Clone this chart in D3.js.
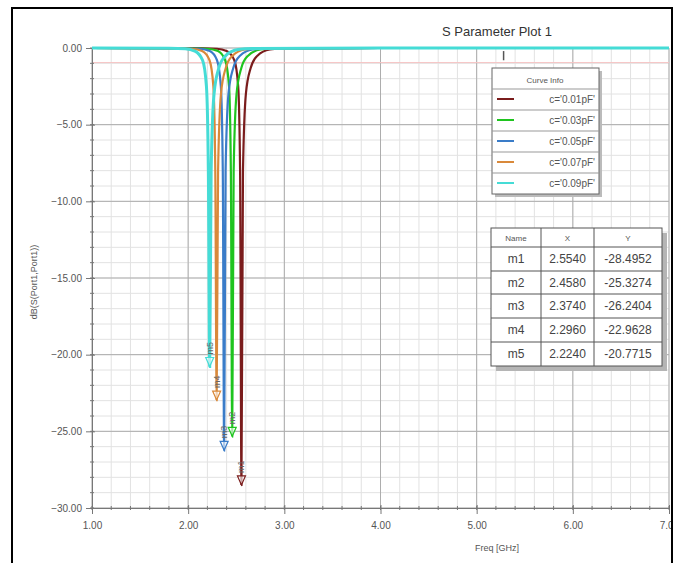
<!DOCTYPE html>
<html lang="en">
	<head>
		<meta charset="utf-8">
		<title>S Parameter Plot 1</title>
		<script src="https://cdnjs.cloudflare.com/ajax/libs/d3/7.8.5/d3.min.js"></script>
		<style type="text/css">
			body { margin: 0; background: white; }
			text { font-family: "Liberation Sans", Arial, sans-serif; }
			g.tick text { fill: #555; font-size: 10px; }
		</style>
	</head>
	<body>
		<div id="chart"></div>
		<script type="text/javascript">

			// data
			const curveNames = ["c='0.01pF'", "c='0.03pF'", "c='0.05pF'", "c='0.07pF'", "c='0.09pF'"];
			const curveColors = ["#7a1c1c", "#1fc41f", "#3a7cc8", "#d9893a", "#45dcd6"];

			const curve1 = [[1.00,0],[2.00,-0.01],[2.30,-0.05],[2.40,-0.2],[2.48,-0.8],[2.52,-2.5],[2.54,-8],[2.554,-28.4952],[2.57,-8],[2.60,-3],[2.65,-1.3],[2.72,-0.5],[2.85,-0.1],[3.00,-0.03],[4.00,0],[7.00,0]];
			const curve2 = [[1.00,0],[2.00,-0.02],[2.20,-0.05],[2.31,-0.2],[2.385,-0.8],[2.425,-2.5],[2.444,-8],[2.458,-25.3274],[2.473,-8],[2.503,-3],[2.553,-1.3],[2.623,-0.5],[2.75,-0.1],[2.90,-0.03],[4.00,0],[7.00,0]];
			const curve3 = [[1.00,0],[1.90,-0.02],[2.12,-0.05],[2.225,-0.2],[2.30,-0.8],[2.34,-2.5],[2.36,-8],[2.374,-26.2404],[2.389,-8],[2.419,-3],[2.469,-1.3],[2.539,-0.5],[2.67,-0.1],[2.82,-0.03],[4.00,0],[7.00,0]];
			const curve4 = [[1.00,0],[1.85,-0.02],[2.04,-0.05],[2.145,-0.2],[2.222,-0.8],[2.262,-2.5],[2.282,-8],[2.296,-22.9628],[2.311,-8],[2.341,-3],[2.391,-1.3],[2.461,-0.5],[2.59,-0.1],[2.74,-0.03],[4.00,0],[7.00,0]];
			const curve5 = [[1.00,0],[1.80,-0.02],[1.97,-0.05],[2.07,-0.2],[2.15,-0.8],[2.19,-2.5],[2.21,-8],[2.224,-20.7715],[2.239,-8],[2.269,-3],[2.319,-1.3],[2.39,-0.5],[2.52,-0.1],[2.67,-0.03],[4.00,0],[7.00,0]];

			const markerNames = ["m1", "m2", "m3", "m4", "m5"];
			const markerX = [2.5540, 2.4580, 2.3740, 2.2960, 2.2240];
			const markerY = [-28.4952, -25.3274, -26.2404, -22.9628, -20.7715];

			const xTicks = [1, 2, 3, 4, 5, 6, 7];
			const yTicks = [0, -5, -10, -15, -20, -25, -30];

			const width = 678;
			const height = 563;
			const margin = {left: 92, right: 9, top: 48, bottom: 55};

			const svg = d3.select("#chart")
					.append("svg")
					.attr("width", width)
					.attr("height", height);

			const xScale = d3.scaleLinear()
					.domain([1, 7])
					.range([margin.left, width - margin.right]);
			const yScale = d3.scaleLinear()
					.domain([-30, 0])
					.range([height - margin.bottom, margin.top]);

			// grid, minor first then major
			const minorX = d3.range(10, 71, 2).map(d => d / 10);
			const minorY = d3.range(-30, 1, 1);
			const grid = svg.append("g").attr("class", "grid");
			grid.selectAll("line.vx")
					.data(minorX)
					.enter()
					.append("line")
					.attr("x1", d => xScale(d)).attr("x2", d => xScale(d))
					.attr("y1", yScale(0)).attr("y2", yScale(-30))
					.attr("stroke", "#e2e2e2").attr("stroke-width", 1);
			grid.selectAll("line.vy")
					.data(minorY)
					.enter()
					.append("line")
					.attr("y1", d => yScale(d)).attr("y2", d => yScale(d))
					.attr("x1", xScale(1)).attr("x2", xScale(7))
					.attr("stroke", "#e2e2e2").attr("stroke-width", 1);
			grid.selectAll("line.mx")
					.data(xTicks)
					.enter()
					.append("line")
					.attr("x1", d => xScale(d)).attr("x2", d => xScale(d))
					.attr("y1", yScale(0)).attr("y2", yScale(-30))
					.attr("stroke", "#adadad").attr("stroke-width", 1);
			grid.selectAll("line.my")
					.data(yTicks)
					.enter()
					.append("line")
					.attr("y1", d => yScale(d)).attr("y2", d => yScale(d))
					.attr("x1", xScale(1)).attr("x2", xScale(7))
					.attr("stroke", "#adadad").attr("stroke-width", 1);

			// faint red reference line
			svg.append("line")
					.attr("x1", xScale(1)).attr("x2", xScale(7))
					.attr("y1", yScale(-0.95)).attr("y2", yScale(-0.95))
					.attr("stroke", "#f6c4c4").attr("stroke-width", 1);

			// axes
			const xAxis = d3.axisBottom(xScale)
					.tickValues(xTicks)
					.tickFormat(d3.format(".2f"))
					.tickSize(6)
					.tickPadding(8);
			const yAxis = d3.axisLeft(yScale)
					.tickValues(yTicks)
					.tickFormat(d3.format(".2f"))
					.tickSize(6)
					.tickPadding(4);

			svg.append("g")
					.attr("class", "axis x")
					.attr("transform", "translate(0," + yScale(-30) + ")")
					.call(xAxis)
					.call(g => g.select(".domain").attr("stroke", "#777"))
					.call(g => g.selectAll(".tick line").attr("stroke", "#777").attr("y1", -3));
			svg.append("g")
					.attr("class", "axis y")
					.attr("transform", "translate(" + xScale(1) + ",0)")
					.call(yAxis)
					.call(g => g.select(".domain").attr("stroke", "#777"))
					.call(g => g.selectAll(".tick line").attr("stroke", "#777").attr("x1", 3));

			// minor ticks along the axes
			svg.append("g").selectAll("line")
					.data(minorX)
					.enter()
					.append("line")
					.attr("x1", d => xScale(d)).attr("x2", d => xScale(d))
					.attr("y1", yScale(-30) - 2).attr("y2", yScale(-30) + 2)
					.attr("stroke", "#777");
			svg.append("g").selectAll("line")
					.data(minorY)
					.enter()
					.append("line")
					.attr("y1", d => yScale(d)).attr("y2", d => yScale(d))
					.attr("x1", xScale(1) - 2).attr("x2", xScale(1) + 2)
					.attr("stroke", "#777");

			// curves
			const curves = [curve1, curve2, curve3, curve4, curve5];
			const line = d3.line()
					.x(d => xScale(d[0]))
					.y(d => yScale(d[1]))
					.curve(d3.curveMonotoneX);

			svg.append("g")
					.attr("class", "curves")
					.selectAll("path")
					.data(curves)
					.enter()
					.append("path")
					.attr("d", line)
					.attr("fill", "none")
					.attr("stroke", (d, i) => curveColors[i])
					.attr("stroke-width", (d, i) => i == 4 ? 3 : 2.2);

			// small marker on the top line
			svg.append("line")
					.attr("x1", xScale(5.28)).attr("x2", xScale(5.28))
					.attr("y1", yScale(-0.2)).attr("y2", yScale(-0.8))
					.attr("stroke", "#555").attr("stroke-width", 1.5);

			// markers at the dips
			const mk = svg.append("g").attr("class", "markers");
			markerNames.forEach(function(name, i) {
					const px = xScale(markerX[i]);
					const py = yScale(markerY[i]);
					mk.append("path")
							.attr("d", "M" + (px - 4) + "," + (py - 9) + "L" + (px + 4) + "," + (py - 9) + "L" + px + "," + py + "Z")
							.attr("fill", "white")
							.attr("fill-opacity", 0.6)
							.attr("stroke", curveColors[i])
							.attr("stroke-width", 1.2);
					mk.append("text")
							.attr("transform", "translate(" + (px + 3) + "," + (py - 12) + ") rotate(-90)")
							.attr("font-size", 9)
							.attr("fill", "#666")
							.text(name);
			});

			// legend (Curve Info)
			const lg = svg.append("g").attr("transform", "translate(492,68)");
			lg.append("rect").attr("x", 3).attr("y", 3).attr("width", 107).attr("height", 126).attr("fill", "#bbb");
			lg.append("rect").attr("width", 107).attr("height", 126).attr("fill", "white").attr("stroke", "#666");
			lg.append("text").attr("x", 53).attr("y", 15).attr("text-anchor", "middle")
					.attr("font-size", 8).attr("fill", "#555").text("Curve Info");
			curveNames.forEach(function(name, i) {
					const y0 = 21 + i * 21;
					lg.append("line").attr("x1", 0).attr("x2", 107).attr("y1", y0).attr("y2", y0).attr("stroke", "#999");
					lg.append("line").attr("x1", 5).attr("x2", 22).attr("y1", y0 + 10).attr("y2", y0 + 10)
							.attr("stroke", curveColors[i]).attr("stroke-width", 2);
					lg.append("text").attr("x", 103).attr("y", y0 + 14).attr("text-anchor", "end")
							.attr("font-size", 10).attr("fill", "#555").text(name);
			});

			// marker table
			const tb = svg.append("g").attr("transform", "translate(491,228)");
			const colX = [0, 50, 103, 171];
			const rowY = [0, 19, 43, 66, 90, 114, 138];
			tb.append("rect").attr("x", 5).attr("y", 5).attr("width", 171).attr("height", 138).attr("fill", "#b5b5b5");
			tb.append("rect").attr("width", 171).attr("height", 138).attr("fill", "white").attr("stroke", "#555");
			colX.slice(1, 3).forEach(function(cx) {
					tb.append("line").attr("x1", cx).attr("x2", cx).attr("y1", 0).attr("y2", 138).attr("stroke", "#555");
			});
			rowY.slice(1, 6).forEach(function(ry) {
					tb.append("line").attr("x1", 0).attr("x2", 171).attr("y1", ry).attr("y2", ry).attr("stroke", "#555");
			});
			["Name", "X", "Y"].forEach(function(h, j) {
					tb.append("text").attr("x", (colX[j] + colX[j + 1]) / 2).attr("y", 13).attr("text-anchor", "middle")
							.attr("font-size", 8).attr("fill", "#555").text(h);
			});
			markerNames.forEach(function(name, i) {
					const ty = (rowY[i + 1] + rowY[i + 2]) / 2 + 4;
					const cells = [name, markerX[i].toFixed(4), markerY[i].toFixed(4)];
					cells.forEach(function(c, j) {
							tb.append("text").attr("x", (colX[j] + colX[j + 1]) / 2).attr("y", ty).attr("text-anchor", "middle")
									.attr("font-size", 12).attr("fill", "#444").text(c);
					});
			});

			// titles
			svg.append("text").attr("x", 497).attr("y", 36).attr("text-anchor", "middle")
					.attr("font-size", 13).attr("fill", "#333").text("S Parameter Plot 1");
			svg.append("text").attr("x", 497).attr("y", 551).attr("text-anchor", "middle")
					.attr("font-size", 9).attr("fill", "#555").text("Freq [GHz]");
			svg.append("text").attr("transform", "translate(37,282) rotate(-90)").attr("text-anchor", "middle")
					.attr("font-size", 9).attr("fill", "#555").text("dB(S(Port1,Port1))");

			// outer frame, cut off on the right
			svg.append("rect").attr("x", 673).attr("y", 0).attr("width", 10).attr("height", height).attr("fill", "white");
			svg.append("rect")
					.attr("x", 12).attr("y", 8)
					.attr("width", 660).attr("height", 570)
					.attr("fill", "none")
					.attr("stroke", "black")
					.attr("stroke-width", 2);

		</script>
	</body>
</html>
